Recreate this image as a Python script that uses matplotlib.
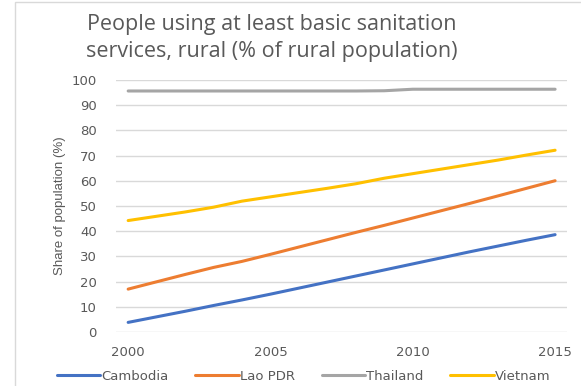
import matplotlib
matplotlib.use("Agg")
import matplotlib.pyplot as plt
from matplotlib.patches import Rectangle

years = list(range(2000, 2016))
cambodia = [3.8, 6.0, 8.2, 10.5, 12.7, 15.0, 17.4, 19.8, 22.2, 24.6, 27.0, 29.4, 31.8, 34.1, 36.4, 38.6]
lao = [17.0, 19.9, 22.8, 25.6, 28.0, 30.8, 33.7, 36.6, 39.5, 42.3, 45.2, 48.1, 51.0, 54.0, 57.0, 60.0]
thailand = [95.6, 95.6, 95.6, 95.6, 95.6, 95.6, 95.6, 95.6, 95.6, 95.7, 96.3, 96.3, 96.3, 96.3, 96.3, 96.3]
vietnam = [44.2, 45.9, 47.6, 49.5, 51.9, 53.6, 55.3, 57.0, 58.8, 61.0, 62.8, 64.6, 66.4, 68.2, 70.2, 72.1]

series = [("Cambodia", cambodia, "#4472c4"),
          ("Lao PDR", lao, "#ed7d31"),
          ("Thailand", thailand, "#a5a5a5"),
          ("Vietnam", vietnam, "#ffc000")]

xticks = [2000, 2005, 2010, 2015]
yticks = list(range(0, 101, 10))

plt.rcParams["font.family"] = ["DejaVu Sans"]
txt = "#595959"

fig = plt.figure(figsize=(5.81, 3.86), dpi=100)
ax = fig.add_axes([0.2, 0.14, 0.776, 0.653])

for name, vals, color in series:
    ax.plot(years, vals, color=color, lw=2.2, label=name, solid_capstyle="round")

ax.set_xlim(1999.58, 2015.42)
ax.set_ylim(0, 100)
ax.set_xticks(xticks)
ax.set_yticks(yticks)
ax.grid(axis="y", color="#d9d9d9", lw=1)
ax.set_axisbelow(True)
for s in ax.spines.values():
    s.set_visible(False)
ax.tick_params(length=0, colors=txt, labelsize=9.5)
ax.tick_params(axis="y", pad=14)
ax.tick_params(axis="x", pad=10)

ax.set_ylabel("Share of population (%)", color=txt, fontsize=9.5,
              family=["Liberation Sans Narrow", "Liberation Sans"], labelpad=4)

fig.text(0.468, 0.937, "People using at least basic sanitation", ha="center", va="center",
         fontsize=15.5, color=txt, family=["Open Sans"])
fig.text(0.468, 0.866, "services, rural (% of rural population)", ha="center", va="center",
         fontsize=15.5, color=txt, family=["Open Sans"])

leg = ax.legend(loc="center", bbox_to_anchor=(0.416, -0.177), ncol=4, frameon=False,
                fontsize=9.5, handlelength=3.3, handletextpad=0.1, columnspacing=2.0,
                borderpad=0)
for t in leg.get_texts():
    t.set_color(txt)

fig.patches.append(Rectangle((0.026, -0.01), 1.0, 1.005, transform=fig.transFigure,
                             fill=False, edgecolor="#d9d9d9", lw=1))

fig.savefig("out.png", dpi=100)
